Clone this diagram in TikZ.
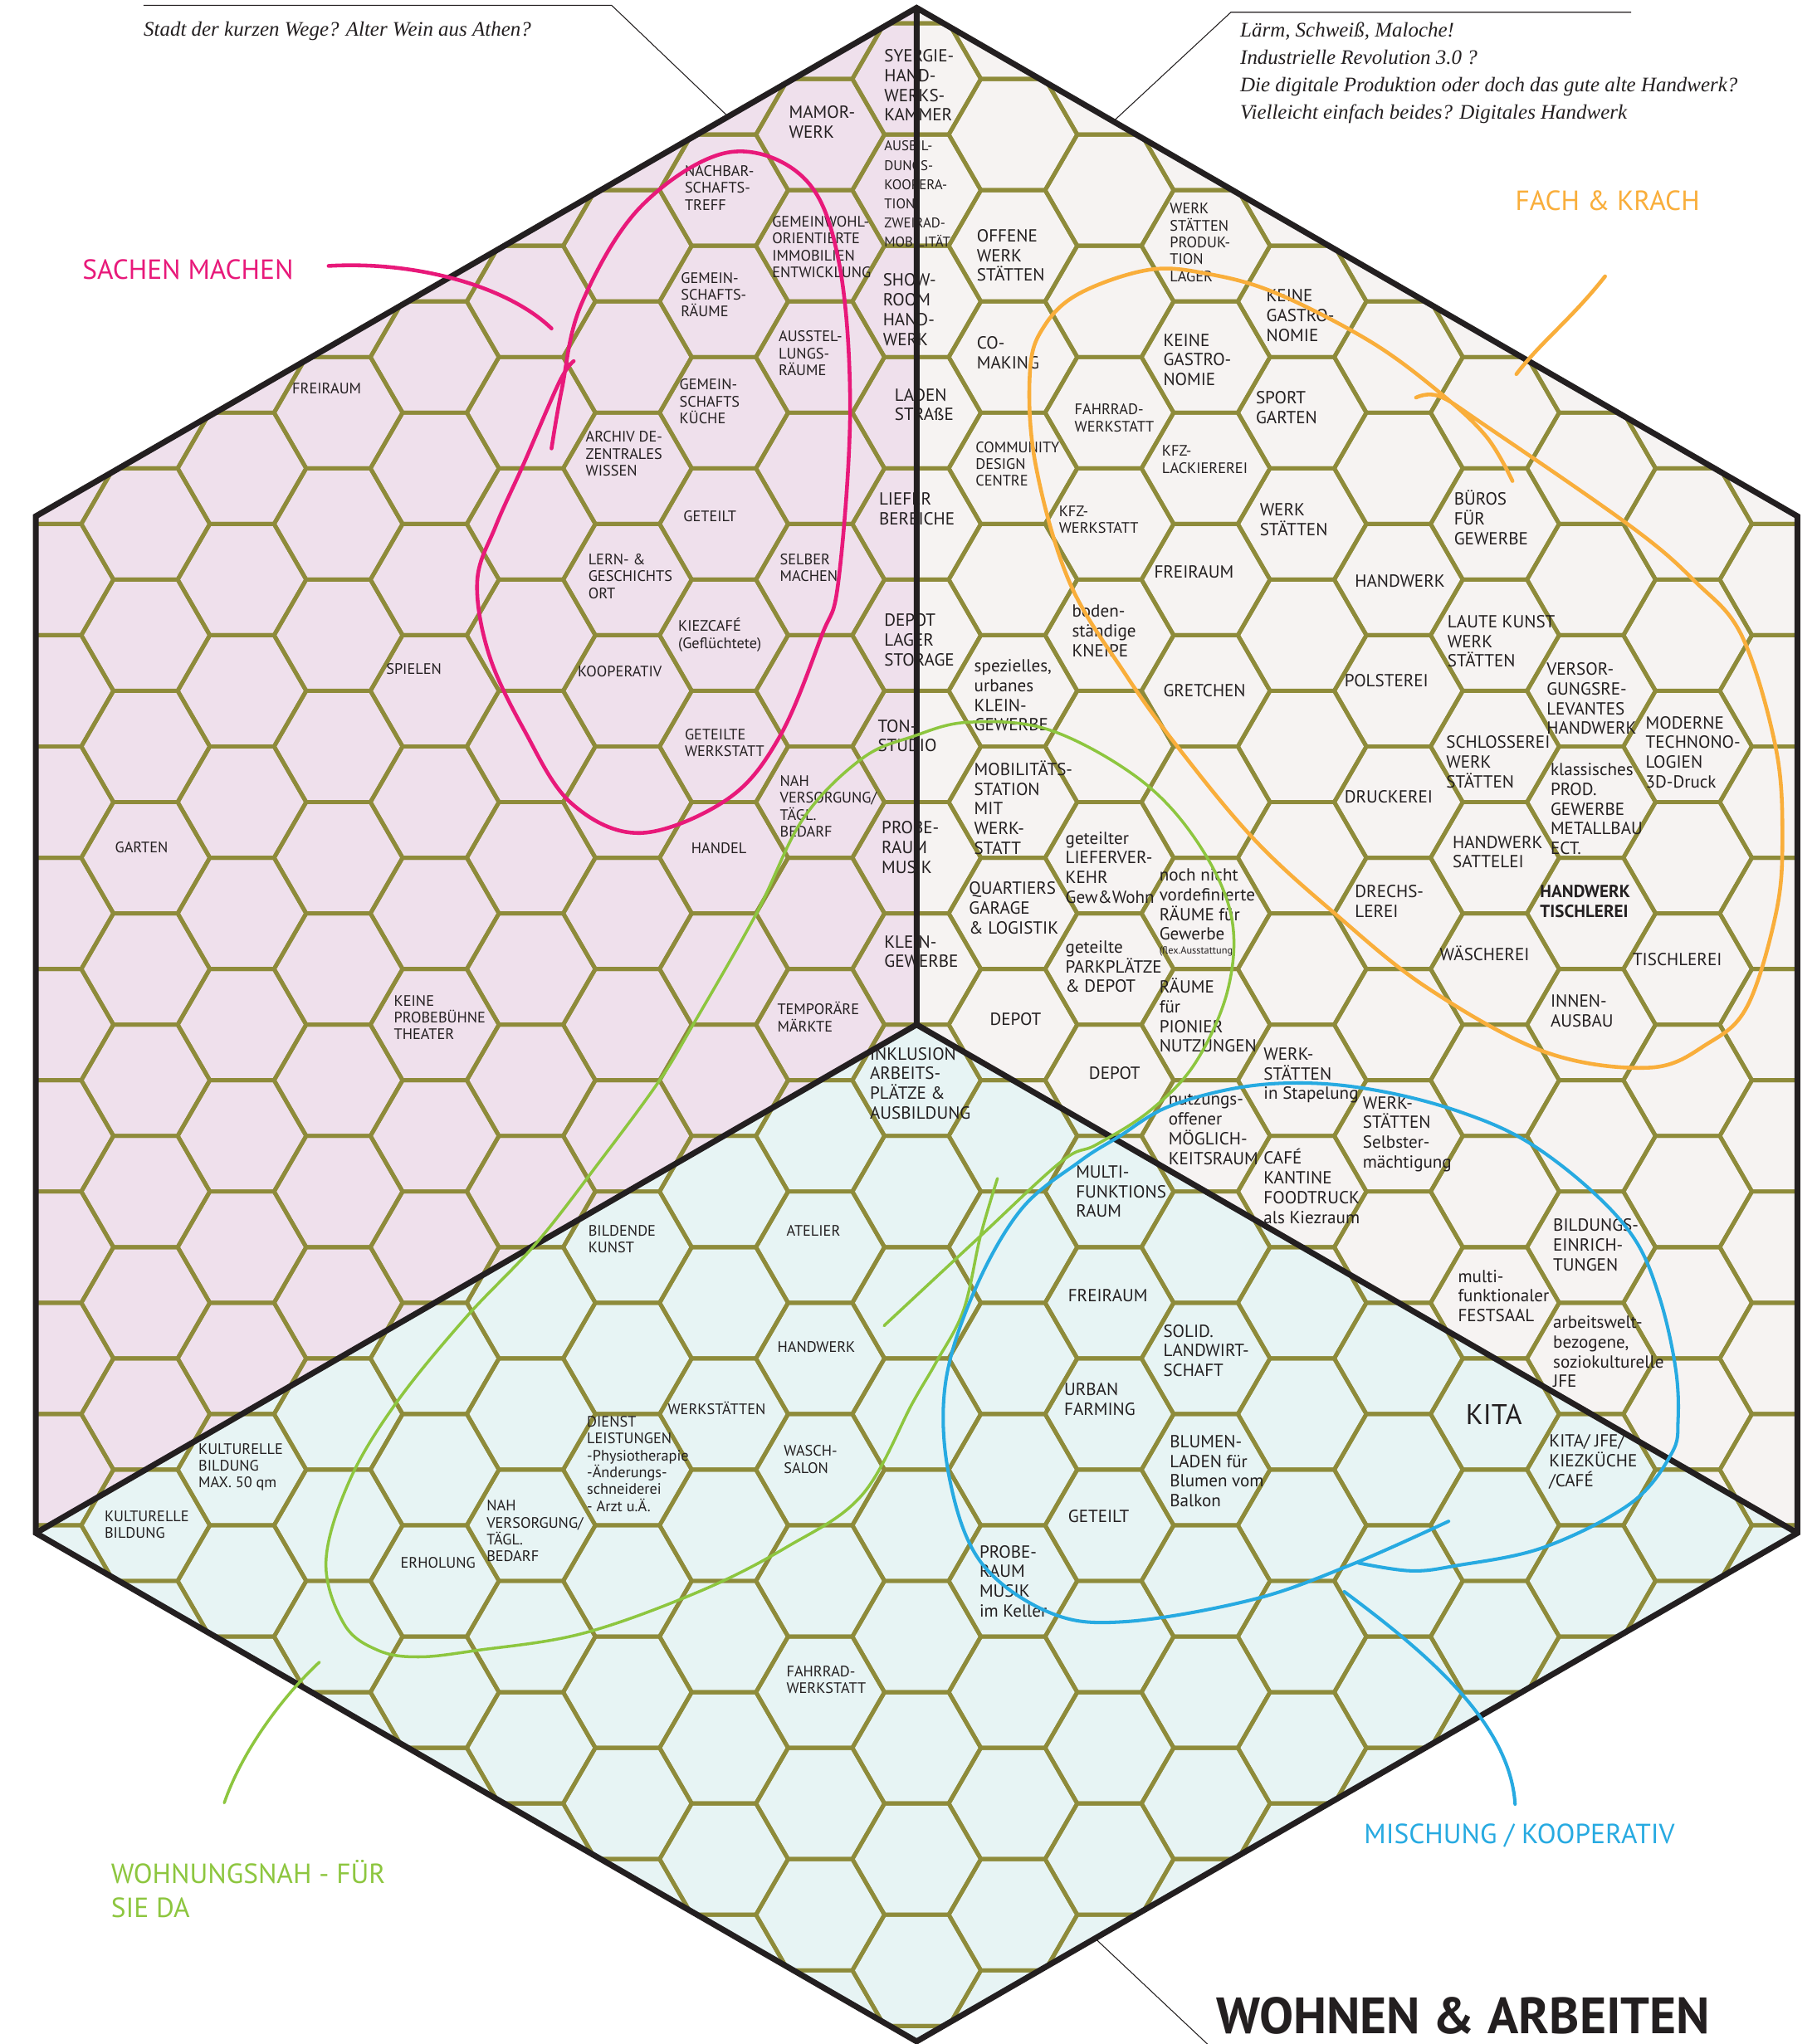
\documentclass[tikz,border=0pt]{standalone}
\usepackage{fontspec}
\setmainfont{PT Sans}
\newfontfamily\serifit{Liberation Serif}
\newfontfamily\headfont{PT Sans}
\usepackage{tikz}
\usetikzlibrary{positioning}

\definecolor{olive}{RGB}{142,139,58}
\definecolor{ink}{RGB}{35,31,32}
\definecolor{pinkfill}{RGB}{239,224,236}
\definecolor{warmfill}{RGB}{246,243,242}
\definecolor{bluefill}{RGB}{231,244,244}
\definecolor{penpink}{RGB}{232,25,122}
\definecolor{penorange}{RGB}{249,174,59}
\definecolor{pengreen}{RGB}{141,198,63}
\definecolor{penblue}{RGB}{39,170,225}

\newcommand{\fsmall}{\fontsize{10.4}{11.6}\selectfont}
\newcommand{\fmed}{\fontsize{12}{13.5}\selectfont}
\newcommand{\fpen}{\fontsize{19}{23}\selectfont}

\tikzset{
  hexline/.style={draw=olive, line width=2.8pt, line join=miter},
  frame/.style={draw=ink, line width=4pt, line join=miter},
  sm/.style={anchor=west, align=left, inner sep=0pt, text=ink, font=\fsmall},
  md/.style={sm, font=\fmed},
  pen/.style={line width=2.6pt, line cap=round, line join=round},
  leader/.style={draw=ink, line width=0.6pt},
}

\begin{document}
\begin{tikzpicture}[x=0.031415cm, y=-0.031415cm]
    \useasboundingbox (0,0) rectangle (1393,1568);
    \fill[white] (0,0) rectangle (1393,1568);

    % corners of the big hexagon
    \coordinate (ctr) at (703,786);
    \coordinate (top) at (703,6);
    \coordinate (ur) at (1378.5,396);
    \coordinate (lr) at (1378.5,1176);
    \coordinate (bot) at (703,1566);
    \coordinate (ll) at (27.5,1176);
    \coordinate (ul) at (27.5,396);

    % three fields
    \fill[pinkfill] (ctr) -- (top) -- (ul) -- (ll) -- cycle;
    \fill[warmfill] (ctr) -- (top) -- (ur) -- (lr) -- cycle;
    \fill[bluefill] (ctr) -- (ll) -- (bot) -- (lr) -- cycle;

    % honeycomb
    \begin{scope}
        \clip (top) -- (ur) -- (lr) -- (bot) -- (ll) -- (ul) -- cycle;
        \foreach \i in {-10,...,10}{
            \foreach \k in {-10,...,9}{
                \pgfmathsetmacro{\cx}{703+73.92*\i}
                \pgfmathsetmacro{\cy}{786+85.35*\k+42.68*(1-abs(mod(\i,2)))}
                \draw[hexline] (\cx+49.28,\cy) -- (\cx+24.64,\cy+42.68) -- (\cx-24.64,\cy+42.68)
                    -- (\cx-49.28,\cy) -- (\cx-24.64,\cy-42.68) -- (\cx+24.64,\cy-42.68) -- cycle;
            }
        }
    \end{scope}

    % left field
    \node[sm] (l-freiraum) at (224,298) {FREIRAUM};
    \node[sm] (l-nachbar) at (525,144) {NACHBAR-\\SCHAFTS-\\TREFF};
    \node[md] (l-mamor) at (605,93.5) {MAMOR-\\WERK};
    \node[md] (l-syergie) at (678,65.5) {SYERGIE-\\HAND-\\WERKS-\\KAMMER};
    \node[sm, font=\fontsize{9.6}{13.2}\selectfont] (l-ausbil) at (678,149) {AUSBIL-\\DUNGS-\\KOOPERA-\\TION\\ZWEIRAD-\\MOBILITÄT};
    \node[sm] (l-gemeinwohl) at (592,189.5) {GEMEINWOHL-\\ORIENTIERTE\\IMMOBILIEN\\ENTWICKLUNG};
    \node[sm] (l-gemraeume) at (522,226) {GEMEIN-\\SCHAFTS-\\RÄUME};
    \node[md] (l-showroom) at (677,237.5) {SHOW-\\ROOM\\HAND-\\WERK};
    \node[sm] (l-ausstel) at (597,271) {AUSSTEL-\\LUNGS-\\RÄUME};
    \node[sm] (l-gemkueche) at (521,308) {GEMEIN-\\SCHAFTS\\KÜCHE};
    \node[md] (l-laden) at (686,310.5) {LADEN\\STRAßE};
    \node[sm] (l-archiv) at (449,348) {ARCHIV DE-\\ZENTRALES\\WISSEN};
    \node[md] (l-liefer) at (674,390.5) {LIEFER\\BEREICHE};
    \node[sm] (l-geteilt) at (524,396) {GETEILT};
    \node[sm] (l-lern) at (451,442) {LERN- \&\\GESCHICHTS\\ORT};
    \node[sm] (l-selber) at (598,435.5) {SELBER\\MACHEN};
    \node[sm] (l-kiezcafe) at (520,487) {KIEZCAFÉ\\(Geflüchtete)};
    \node[md] (l-depot) at (678,491) {DEPOT\\LAGER\\STORAGE};
    \node[sm] (l-spielen) at (296,513) {SPIELEN};
    \node[sm] (l-koop) at (443,515) {KOOPERATIV};
    \node[sm] (l-geteiltews) at (525,570) {GETEILTE\\WERKSTATT};
    \node[md] (l-ton) at (673,564.5) {TON-\\STUDIO};
    \node[sm] (l-nah) at (598,618.5) {NAH\\VERSORGUNG/\\TÄGL.\\BEDARF};
    \node[sm] (l-garten) at (88,650) {GARTEN};
    \node[sm] (l-handel) at (530,651) {HANDEL};
    \node[md] (l-probe) at (676,650) {PROBE-\\RAUM\\MUSIK};
    \node[md] (l-klein) at (678,730) {KLEIN-\\GEWERBE};
    \node[sm] (l-keine) at (302,780.5) {KEINE\\PROBEBÜHNE\\THEATER};
    \node[sm] (l-temp) at (596,780) {TEMPORÄRE\\MÄRKTE};

    % right field
    \node[md] (r-offene) at (749,196) {OFFENE\\WERK\\STÄTTEN};
    \node[sm] (r-produktion) at (897,186) {WERK\\STÄTTEN\\PRODUK-\\TION\\LAGER};
    \node[md] (r-gastro1) at (971,242) {KEINE\\GASTRO-\\NOMIE};
    \node[md] (r-comaking) at (749,270.5) {CO-\\MAKING};
    \node[md] (r-gastro2) at (892,276) {KEINE\\GASTRO-\\NOMIE};
    \node[md] (r-sport) at (963,312.5) {SPORT\\GARTEN};
    \node[sm] (r-fahrrad) at (824,320.5) {FAHRRAD-\\WERKSTATT};
    \node[sm] (r-community) at (748,356) {COMMUNITY\\DESIGN\\CENTRE};
    \node[sm] (r-lack) at (891,352.5) {KFZ-\\LACKIEREREI};
    \node[md] (r-bueros) at (1115,397) {BÜROS\\FÜR\\GEWERBE};
    \node[sm] (r-kfz) at (812,398.5) {KFZ-\\WERKSTATT};
    \node[md] (r-werk) at (966,398.5) {WERK\\STÄTTEN};
    \node[md] (r-freiraum) at (885,439) {FREIRAUM};
    \node[md] (r-handwerk) at (1039,446) {HANDWERK};
    \node[md] (r-kneipe) at (822,484) {boden-\\ständige\\KNEIPE};
    \node[md] (r-laute) at (1110,492) {LAUTE KUNST\\WERK\\STÄTTEN};
    \node[md] (r-polster) at (1031,522) {POLSTEREI};
    \node[md] (r-speziell) at (747,533.5) {spezielles,\\urbanes\\KLEIN-\\GEWERBE};
    \node[md] (r-gretchen) at (892,530) {GRETCHEN};
    \node[md] (r-versor) at (1186,536) {VERSOR-\\GUNGSRE-\\LEVANTES\\HANDWERK};
    \node[md] (r-moderne) at (1262,577) {MODERNE\\TECHNONO-\\LOGIEN\\3D-Druck};
    \node[md] (r-schloss) at (1109,584.5) {SCHLOSSEREI\\WERK\\STÄTTEN};
    \node[md] (r-klass) at (1189,620.5) {klassisches\\PROD.\\GEWERBE\\METALLBAU\\ECT.};
    \node[md] (r-mobil) at (747,619.5) {MOBILITÄTS-\\STATION\\MIT\\WERK-\\STATT};
    \node[md] (r-druck) at (1031,611) {DRUCKEREI};
    \node[md] (r-lieferverkehr) at (817,665.5) {geteilter\\LIEFERVER-\\KEHR\\Gew\&Wohn};
    \node[md] (r-sattel) at (1114,653.5) {HANDWERK\\SATTELEI};
    \node[md] (r-nochnicht) at (889,700) {noch nicht\\vordefinierte\\RÄUME für\\Gewerbe\\[-4pt]{\fontsize{7}{8}\selectfont(flex.Ausstattung)}};
    \node[md] (r-quartier) at (743,696.5) {QUARTIERS\\GARAGE\\\& LOGISTIK};
    \node[md] (r-drechs) at (1039,691.5) {DRECHS-\\LEREI};
    \node[md, font=\fmed\bfseries] (r-tischhw) at (1181,691.5) {HANDWERK\\TISCHLEREI};
    \node[md] (r-park) at (817,741.5) {geteilte\\PARKPLÄTZE\\\& DEPOT};
    \node[md] (r-waesch) at (1104,731) {WÄSCHEREI};
    \node[md] (r-tisch) at (1252,736) {TISCHLEREI};
    \node[md] (r-pionier) at (889,779) {RÄUME\\für\\PIONIER\\NUTZUNGEN};
    \node[md] (r-innen) at (1189,775.5) {INNEN-\\AUSBAU};
    \node[md] (r-depot1) at (759,782) {DEPOT};
    \node[md] (r-depot2) at (835,823) {DEPOT};
    \node[md] (r-stapel) at (969,825) {WERK-\\STÄTTEN\\in Stapelung};
    \node[md] (r-selbst) at (1045,870) {WERK-\\STÄTTEN\\Selbster-\\mächtigung};
    \node[md] (r-nutzung) at (896,866.5) {nutzungs-\\offener\\MÖGLICH-\\KEITSRAUM};
    \node[md] (r-cafe) at (969,910) {CAFÉ\\KANTINE\\FOODTRUCK\\als Kiezraum};
    \node[md] (r-bildung) at (1191,955) {BILDUNGS-\\EINRICH-\\TUNGEN};
    \node[md] (r-festsaal) at (1118,994) {multi-\\funktionaler\\FESTSAAL};
    \node[md] (r-jfe) at (1191,1037) {arbeitswelt-\\bezogene,\\soziokulturelle\\JFE};

    % bottom field
    \node[md] (b-inklusion) at (667,831) {INKLUSION\\ARBEITS-\\PLÄTZE \&\\AUSBILDUNG};
    \node[md] (b-multi) at (825,914) {MULTI-\\FUNKTIONS\\RAUM};
    \node[sm] (b-bildende) at (451,950.5) {BILDENDE\\KUNST};
    \node[sm] (b-atelier) at (603,944) {ATELIER};
    \node[md] (b-freiraum) at (819,994) {FREIRAUM};
    \node[sm] (b-handwerk) at (596,1033) {HANDWERK};
    \node[md] (b-solid) at (892,1036) {SOLID.\\LANDWIRT-\\SCHAFT};
    \node[md] (b-urban) at (816,1073.5) {URBAN\\FARMING};
    \node[sm] (b-werkst) at (512,1080) {WERKSTÄTTEN};
    \node[sm, font=\fontsize{19.5}{21}\selectfont] (b-kita) at (1124,1085) {KITA};
    \node[sm] (b-dienst) at (450,1123) {DIENST\\LEISTUNGEN\\-Physiotherapie\\-Änderungs-\\schneiderei\\- Arzt u.Ä.};
    \node[sm] (b-kultur1) at (152,1125.5) {KULTURELLE\\BILDUNG\\MAX. 50 qm};
    \node[sm] (b-wasch) at (601,1119.5) {WASCH-\\SALON};
    \node[md] (b-blumen) at (897,1128.5) {BLUMEN-\\LADEN für\\Blumen vom\\Balkon};
    \node[md] (b-kitajfe) at (1188,1121.5) {KITA/ JFE/\\KIEZKÜCHE\\/CAFÉ};
    \node[sm] (b-kultur2) at (80,1169.5) {KULTURELLE\\BILDUNG};
    \node[sm] (b-nah) at (373,1174.5) {NAH\\VERSORGUNG/\\TÄGL.\\BEDARF};
    \node[md] (b-geteilt) at (819,1163) {GETEILT};
    \node[sm] (b-erholung) at (307,1199) {ERHOLUNG};
    \node[md] (b-probe) at (751,1213) {PROBE-\\RAUM\\MUSIK\\im Keller};
    \node[sm] (b-fahrrad) at (603,1288.5) {FAHRRAD-\\WERKSTATT};

    % outline and spokes
    \draw[frame] (top) -- (ur) -- (lr) -- (bot) -- (ll) -- (ul) -- cycle;
    \draw[frame] (top) -- (ctr) (ll) -- (ctr) -- (lr);

    % quotes with leaders
    \node[anchor=west, inner sep=0pt, text=ink, font=\serifit\itshape\fontsize{14.2}{16}\selectfont] (q-stadt) at (110,24) {Stadt der kurzen Wege? Alter Wein aus Athen?};
    \node[anchor=west, align=left, inner sep=0pt, text=ink, font=\serifit\itshape\fontsize{14.2}{18.8}\selectfont] (q-laerm) at (951,56)
        {Lärm, Schweiß, Maloche!\\Industrielle Revolution 3.0 ?\\Die digitale Produktion oder doch das gute alte Handwerk?\\Vielleicht einfach beides? Digitales Handwerk};
    \coordinate (qa1) at (110,4);
    \coordinate (qa2) at (469,4);
    \coordinate (qa3) at (558,89);
    \coordinate (qb1) at (1251,9.4);
    \coordinate (qb2) at (944,9.4);
    \coordinate (qb3) at (854,93);
    \coordinate (qc1) at (841,1488);
    \coordinate (qc2) at (926,1568);
    \draw[leader] (qa1) -- (qa2) -- (qa3);
    \draw[leader] (qb1) -- (qb2) -- (qb3);
    \draw[leader] (qc1) -- (qc2);

    % group titles
    \node[anchor=west, inner sep=0pt, text=penpink, font=\fpen] (t-sachen) at (63,207) {SACHEN MACHEN};
    \node[anchor=west, inner sep=0pt, text=penorange, font=\fpen] (t-fach) at (1162,154) {FACH \& KRACH};
    \node[anchor=west, align=left, inner sep=0pt, text=pengreen, font=\fpen] (t-wohnungsnah) at (85,1449) {WOHNUNGSNAH - FÜR\\SIE DA};
    \node[anchor=west, inner sep=0pt, text=penblue, font=\fpen] (t-mischung) at (1046,1408) {MISCHUNG / KOOPERATIV};
    \node[anchor=west, inner sep=0pt, text=ink, font=\headfont\bfseries\fontsize{35}{36}\selectfont] (t-title) at (933,1546) {WOHNEN \& ARBEITEN};

    % pen strokes
    \draw[pen, penpink] (252,204) .. controls (320,200) and (390,220) .. (423,252);
    \draw[pen, penpink] plot[smooth, tension=0.6] coordinates {(423,344) (431,298) (446,233) (491,159) (558,117) (616,136) (643,199) (652,313) (643,446) (630,488) (598,565) (558,613) (491,639) (438,616) (402,560) (375,502) (366,446) (380,404) (402,355) (429,293) (440,277)};

    \draw[pen, penorange] (1231,212) .. controls (1205,245) and (1182,262) .. (1163,287);
    \draw[pen, penorange] plot[smooth, tension=0.6] coordinates {(1086,305) (1104,304) (1140,327) (1251,404) (1300,446) (1336,488) (1362,574) (1367,644) (1362,701) (1340,772) (1309,801) (1265,819) (1185,807) (1095,758) (1024,701) (962,644) (904,574) (863,517) (820,446) (794,355) (790,284) (801,250) (828,225) (881,207) (926,210) (979,225) (1051,262) (1104,301) (1140,335) (1160,369)};

    \draw[pen, pengreen, line width=2pt] (172,1383) .. controls (185,1345) and (215,1303) .. (245,1275);
    \draw[pen, pengreen, line width=2pt] plot[smooth, tension=0.6] coordinates {(765,904) (752,948) (739,1005) (718,1045) (700,1076) (661,1147) (603,1187) (536,1221) (447,1253) (366,1266) (321,1271) (290,1266) (264,1246) (250,1198) (268,1136) (304,1076) (357,1011) (411,954) (460,891) (505,830) (531,787) (580,701) (616,628) (661,582) (700,565) (743,554) (805,560) (873,597) (917,644) (944,701) (942,758) (917,815) (882,852) (841,878) (814,891) (750,950) (678,1017)};

    \draw[pen, penblue, line width=2.3pt] (1031,1221) .. controls (1090,1265) and (1158,1320) .. (1162,1384);
    \draw[pen, penblue, line width=2.3pt] plot[smooth, tension=0.6] coordinates {(1111,1167) (1037,1200) (961,1227) (863,1244) (805,1237) (752,1198) (728,1133) (725,1062) (747,991) (783,928) (828,891) (858,872) (896,849) (952,834) (1008,831) (1064,838) (1120,853) (1170,875) (1219,912) (1254,951) (1273,996) (1285,1049) (1287,1089) (1282,1115) (1251,1153) (1184,1187) (1117,1201) (1082,1205) (1042,1199)};
\end{tikzpicture}
\end{document}
